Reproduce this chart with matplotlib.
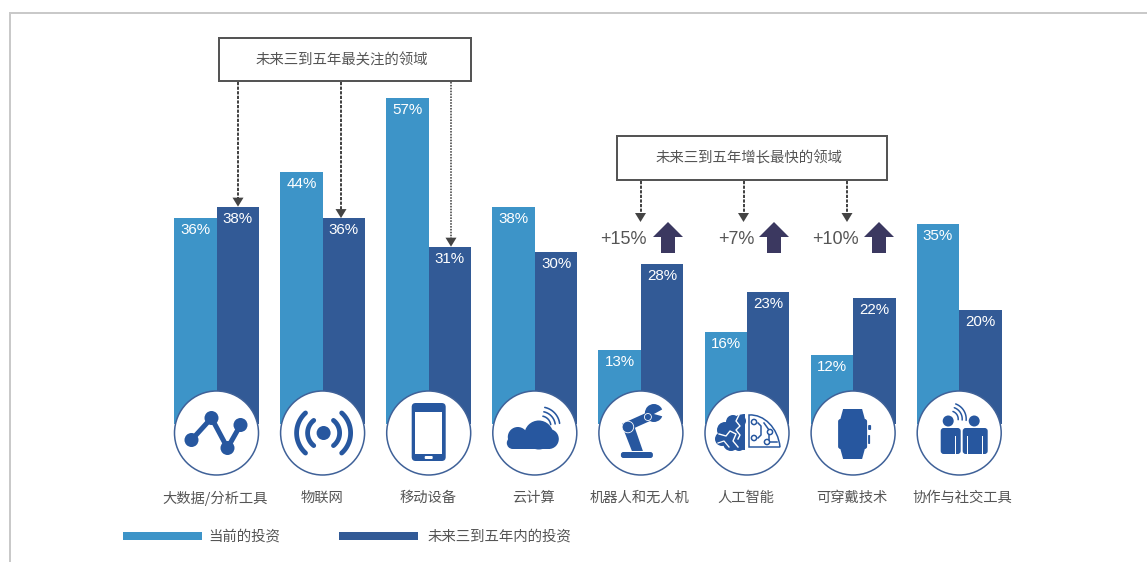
"""
Investment areas: current share vs share planned within three to five years
"""
import numpy as np
import matplotlib
matplotlib.use("Agg")
import matplotlib.pyplot as plt
from matplotlib.patches import Circle, Rectangle, FancyBboxPatch, Polygon, Wedge, PathPatch
from matplotlib.path import Path

categories = ["大数据/分析工具", "物联网", "移动设备", "云计算",
              "机器人和无人机", "人工智能", "可穿戴技术", "协作与社交工具"]
current = [36, 44, 57, 38, 13, 16, 12, 35]
future = [38, 36, 31, 30, 28, 23, 22, 20]
growth_labels = ["+15%", "+7%", "+10%"]
legend_labels = ["当前的投资", "未来三到五年内的投资"]
box_titles = ["未来三到五年最关注的领域", "未来三到五年增长最快的领域"]

LIGHT = "#3d94c8"
DARK = "#325a96"
ICON = "#27579f"
RING = "#3f6198"
GREY = "#555555"
ARROW = "#3b3860"
CJK = ["Noto Sans CJK SC", "DejaVu Sans"]
W, H = 1147, 562
PX = 0.72  # points per pixel at dpi 100

# one category step = 106.1 px, one percent = 5.72 px
X0, STEP, Y0, UNIT = 216.5, 106.1, 424.0, 5.72

fig = plt.figure(figsize=(W / 100, H / 100), dpi=100)
ax = fig.add_axes([0, 0, 1, 1])
ax.set_xlim(-X0 / STEP, (W - X0) / STEP)
ax.set_ylim((Y0 - H) / UNIT, Y0 / UNIT)
ax.axis("off")

# page layer in pixels, y down
pg = fig.add_axes([0, 0, 1, 1], facecolor="none")
pg.set_xlim(0, W)
pg.set_ylim(H, 0)
pg.axis("off")


def y_px(v):
    return Y0 - UNIT * v


def x_px(i):
    return X0 + STEP * i


xs = np.arange(len(categories))
bw = 0.4
ax.bar(xs - bw / 2, current, bw, color=LIGHT, bottom=0)
ax.bar(xs + bw / 2, future, bw, color=DARK, bottom=0)
for i in xs:
    for off, v in ((-bw / 2, current[i]), (bw / 2, future[i])):
        ax.annotate(f"{v}%", xy=(i + off, v), xytext=(0, -12 * PX), textcoords="offset points",
                    ha="center", va="center", color="white", fontsize=10.9, family="Liberation Sans")

# outer frame
pg.plot([10, 10, W], [H, 13, 13], color="#c9c9c9", lw=2 * PX, solid_joinstyle="miter")


def title_box(x0, y0, x1, y1, text):
    pg.add_patch(Rectangle((x0, y0), x1 - x0, y1 - y0, fc="white", ec=GREY, lw=2 * PX))
    pg.text((x0 + x1) / 2 - 3, (y0 + y1) / 2 + 0.5, text, ha="center", va="center",
            color=GREY, fontsize=10.4, family=CJK)


def drop_arrow(x, y0, y1, ls=(0, (1.6, 0.7)), lw=2.0):
    pg.plot([x, x], [y0, y1 - 8], color="#444444", lw=lw * PX, ls=ls)
    pg.add_patch(Polygon([(x - 5.5, y1 - 9), (x + 5.5, y1 - 9), (x, y1)], fc="#444444", ec="none"))


title_box(219, 38, 471, 81, box_titles[0])
title_box(617, 136, 887, 180, box_titles[1])
drop_arrow(238, 82, y_px(future[0]))
drop_arrow(341, 82, y_px(future[1]))
drop_arrow(451, 82, y_px(future[2]), ls=(0, (1, 0.8)), lw=1.6)
for x in (640.5, 743.5, 847):
    drop_arrow(x, 181, 222)


def up_arrow(x0):
    pts = [(x0, 237), (x0 + 8, 237), (x0 + 8, 253), (x0 + 22, 253), (x0 + 22, 237),
           (x0 + 30, 237), (x0 + 15, 222)]
    pg.add_patch(Polygon(pts, fc=ARROW, ec="none"))


for lab, tx, ax0 in zip(growth_labels, (623, 736.5, 835), (653, 759, 864)):
    pg.text(tx, 240, lab, ha="center", va="center", color=GREY, fontsize=13, family="Liberation Sans")
    up_arrow(ax0)


def arc(cx, cy, r, a0, a1, lw, color=ICON, cap="round"):
    t = np.radians(np.linspace(a0, a1, 40))
    pg.plot(cx + r * np.cos(t), cy + r * np.sin(t), color=color, lw=lw * PX,
            solid_capstyle=cap, zorder=5)


def disc(cx, cy, r, color=ICON):
    pg.add_patch(Circle((cx, cy), r, fc=color, ec="none", zorder=5))


def round_box(x0, y0, x1, y1, pad, color=ICON, z=5):
    pg.add_patch(FancyBboxPatch((x0 + pad, y0 + pad), x1 - x0 - 2 * pad, y1 - y0 - 2 * pad,
                                boxstyle=f"round,pad={pad}", fc=color, ec="none", zorder=z))


def poly(pts, color=ICON, z=5):
    pg.add_patch(Polygon(pts, fc=color, ec="none", zorder=z))


def icon_nodes(c, y):
    nx = [c - 25, c - 5, c + 11, c + 24]
    ny = [y + 7, y - 15, y + 15, y - 8]
    pg.plot(nx, ny, color=ICON, lw=5 * PX, zorder=5)
    for a, b in zip(nx, ny):
        disc(a, b, 7)


def icon_signal(c, y):
    disc(c + 1, y, 7)
    for r, half in ((16, 52), (27, 48)):
        arc(c + 1, y, r, 180 - half, 180 + half, 4.8)
        arc(c + 1, y, r, -half, half, 4.8)


def icon_phone(c, y):
    round_box(c - 17, y - 30, c + 17, y + 28, 4)
    pg.add_patch(Rectangle((c - 13.5, y - 21), 27, 42, fc="white", ec="none", zorder=6))
    round_box(c - 4, y + 23, c + 4, y + 26, 1, "white", 6)


def icon_cloud(c, y):
    disc(c - 17, y + 4, 10)
    disc(c + 4, y + 2, 14.5)
    disc(c + 14, y + 6, 10)
    disc(c - 22, y + 10, 6)
    pg.add_patch(Rectangle((c - 22, y + 6), 37, 10, fc=ICON, ec="none", zorder=5))
    for r in (10, 14.5, 19):
        arc(c + 6, y - 7, r, -78, -8, 1.6)


def icon_robot(c, y):
    round_box(c - 20, y + 19, c + 12, y + 25, 2.5)
    poly([(c - 18, y - 5), (c - 7, y - 8), (c + 2, y + 18), (c - 9, y + 18)])
    pg.plot([c - 13, c + 7], [y - 7, y - 16], color=ICON, lw=9 * PX, zorder=5)
    pg.add_patch(Circle((c - 13, y - 6), 5.8, fc=ICON, ec="white", lw=0.6, zorder=6))
    pg.add_patch(Circle((c + 7, y - 16), 3.5, fc=ICON, ec="white", lw=0.6, zorder=6))
    # wrench head, open towards the right
    disc(c + 13, y - 20, 9)
    poly([(c + 13, y - 19), (c + 24, y - 25), (c + 24, y - 16)], "white", 6)


def icon_brain(c, y):
    pg.add_patch(Wedge((c - 2, y - 1), 18, 90, 270, fc=ICON, ec="none", zorder=5))
    for dx, dy, r in ((-14, -11, 7), (-22, -3, 8), (-25, 6, 7), (-16, 10, 8), (-8, 12, 6), (-7, -12, 6)):
        disc(c + dx, y + dy, r)
    # white folds
    pg.plot([c - 28, c - 21, c - 17, c - 11, c - 14, c - 9],
            [y + 1, y + 3, y - 2, y + 1, y + 8, y + 14], color="white", lw=1.0, zorder=6)
    pg.plot([c - 8, c - 11, c - 7, c - 11, c - 7, c - 9],
            [y - 18, y - 12, y - 7, y - 3, y + 2, y + 6], color="white", lw=1.0, zorder=6)
    pg.plot([c - 29, c - 23, c - 18], [y + 10, y + 8, y + 14], color="white", lw=0.9, zorder=6)
    # circuit half
    verts = [(c + 2, y - 18), (c + 17, y - 19), (c + 31, y - 5), (c + 33, y + 14), (c + 2, y + 14), (c + 2, y - 18)]
    codes = [Path.MOVETO, Path.CURVE4, Path.CURVE4, Path.CURVE4, Path.LINETO, Path.CLOSEPOLY]
    pg.add_patch(PathPatch(Path(verts, codes), fc="white", ec=ICON, lw=1.5 * PX, zorder=5))
    pg.plot([c + 11, c + 14, c + 14, c + 11], [y - 10, y - 7, y + 2, y + 5], color=ICON, lw=1.1, zorder=6)
    pg.plot([c + 22, c + 22, c + 17], [y + 10, y - 3, y - 10], color=ICON, lw=1.1, zorder=6)
    pg.plot([c + 22, c + 30], [y + 9, y + 9], color=ICON, lw=1.1, zorder=6)
    for dx, dy in ((7, -11), (23, -1), (7, 5), (20, 9)):
        pg.add_patch(Circle((c + dx, y + dy), 2.6, fc="white", ec=ICON, lw=1.5 * PX, zorder=7))


def icon_watch(c, y):
    round_box(c - 15, y - 14, c + 14, y + 16, 2.5)
    poly([(c - 13, y - 13), (c - 10, y - 24), (c + 9, y - 24), (c + 12, y - 13)])
    poly([(c - 13, y + 15), (c - 10, y + 26), (c + 9, y + 26), (c + 12, y + 15)])
    round_box(c + 15, y - 8, c + 18, y - 3, 1)
    round_box(c + 15, y + 2, c + 17, y + 11, 0.8)


def icon_people(c, y):
    disc(c - 11, y - 12, 5.5)
    disc(c + 15, y - 12, 5.5)
    for x0, x1 in ((c - 18.5, c + 1.5), (c + 3.5, c + 28.5)):
        round_box(x0, y - 5, x1, y + 21, 3)
    for x in (c - 4, c + 8, c + 23):
        pg.add_patch(Rectangle((x, y + 3), 1.2, 19, fc="white", ec="none", zorder=6))
    for r in (8, 12, 16):
        arc(c - 9, y - 14, r, -70, 5, 1.5)


icons = [icon_nodes, icon_signal, icon_phone, icon_cloud, icon_robot, icon_brain, icon_watch, icon_people]
icon_y = 433
for i, draw in enumerate(icons):
    c = x_px(i)
    pg.add_patch(Circle((c, icon_y), 42, fc="white", ec=RING, lw=1.1, zorder=4))
    draw(c, icon_y)
    # the last label sits a little to the right of its group
    lx = c + 3 if i == len(icons) - 1 else c - 1
    pg.text(lx, 498, categories[i], ha="center", va="center", color=GREY, fontsize=10.3, family=CJK)

# legend drawn by hand below the icons
pg.add_patch(Rectangle((123, 532), 78.5, 8, fc=LIGHT, ec="none"))
pg.text(208, 536, legend_labels[0], ha="left", va="center", color=GREY, fontsize=10.4, family=CJK)
pg.add_patch(Rectangle((339, 532), 79, 8, fc=DARK, ec="none"))
pg.text(428, 536, legend_labels[1], ha="left", va="center", color=GREY, fontsize=10.4, family=CJK)

fig.savefig("out.png", dpi=100)
